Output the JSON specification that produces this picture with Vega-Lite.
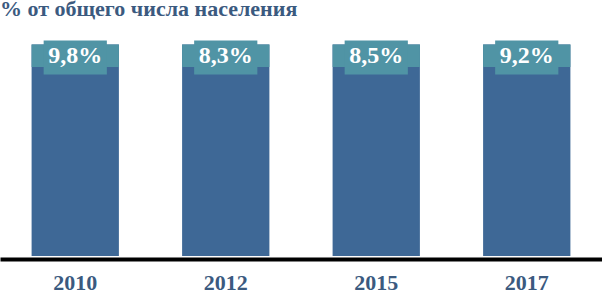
{
  "$schema": "https://vega.github.io/schema/vega-lite/v6.json",
  "width": 602,
  "height": 236,
  "autosize": "none",
  "padding": {"left": 0, "top": 20, "right": 0, "bottom": 35},
  "background": "white",
  "config": {"view": {"stroke": null}},
  "title": {
    "text": "% от общего числа населения",
    "anchor": "start",
    "frame": "group",
    "offset": -1,
    "font": "Liberation Serif",
    "fontSize": 22,
    "fontWeight": "bold",
    "color": "#3b5a7f"
  },
  "data": {
    "values": [
      {"year": "2010", "value": 9.8, "label": "9,8%"},
      {"year": "2012", "value": 8.3, "label": "8,3%"},
      {"year": "2015", "value": 8.5, "label": "8,5%"},
      {"year": "2017", "value": 9.2, "label": "9,2%"}
    ]
  },
  "encoding": {
    "x": {
      "field": "year",
      "type": "nominal",
      "sort": null,
      "scale": {"paddingInner": 0.42, "paddingOuter": 0.21},
      "axis": {
        "title": null,
        "labelAngle": 0,
        "ticks": false,
        "offset": 3,
        "domainColor": "#000000",
        "domainWidth": 4,
        "labelFont": "Liberation Serif",
        "labelFontSize": 22,
        "labelFontWeight": "bold",
        "labelColor": "#3b5a7f",
        "labelPadding": 13
      }
    }
  },
  "layer": [
    {
      "mark": {"type": "bar", "color": "#3e6896"},
      "encoding": {
        "y": {"datum": 10, "type": "quantitative", "scale": {"domain": [0, 11.158], "nice": false, "zero": true}, "axis": null}
      }
    },
    {
      "mark": {"type": "bar", "color": "#5094a5"},
      "encoding": {
        "y": {"datum": 10, "type": "quantitative"},
        "y2": {"datum": 8.936}
      }
    },
    {
      "mark": {"type": "bar", "color": "#5094a5", "width": {"band": 0.724}},
      "encoding": {
        "y": {"datum": 10.189, "type": "quantitative"},
        "y2": {"datum": 8.581}
      }
    },
    {
      "mark": {"type": "text", "color": "white", "font": "Liberation Serif", "fontSize": 24, "fontWeight": "bold", "baseline": "alphabetic"},
      "encoding": {
        "y": {"datum": 9.111, "type": "quantitative"},
        "text": {"field": "label"}
      }
    }
  ]
}
